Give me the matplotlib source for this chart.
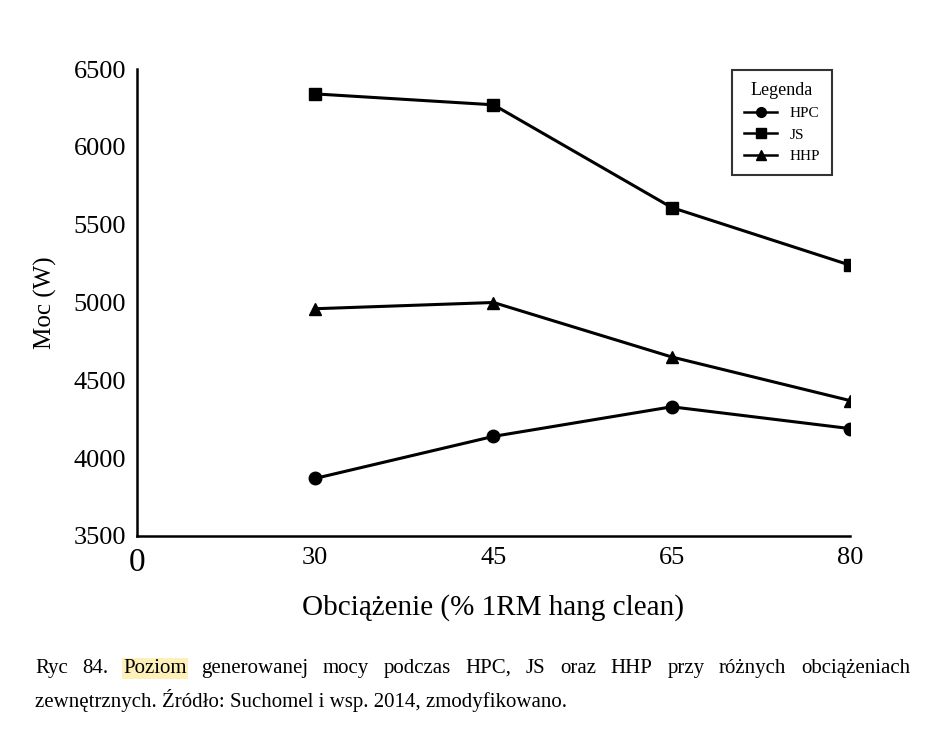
import matplotlib
matplotlib.use("Agg")
import matplotlib.pyplot as plt

categories = ["0", "30", "45", "65", "80"]
x_idx = [1, 2, 3, 4]
hpc = [3870, 4140, 4330, 4190]
js = [6340, 6270, 5610, 5240]
hhp = [4960, 5000, 4650, 4370]
yticks = [3500, 4000, 4500, 5000, 5500, 6000, 6500]

plt.rcParams['font.family'] = ['Liberation Serif', 'DejaVu Serif']
W, H = 945, 744
fig = plt.figure(figsize=(W/100, H/100), dpi=100)
ax = fig.add_axes([137/W, 1-536/H, (850-137)/W, (536-69)/H])
kw = dict(color='black', lw=2.2, ms=9)
l1, = ax.plot(x_idx, hpc, marker='o', label='HPC', **kw)
l2, = ax.plot(x_idx, js, marker='s', label='JS', **kw)
l3, = ax.plot(x_idx, hhp, marker='^', label='HHP', **kw)
ax.set_xlim(0, 4)
ax.set_ylim(3500, 6500)
ax.set_xticks(range(5))
ax.set_xticklabels(categories)
ax.get_xticklabels()[0].set_fontsize(24)
ax.set_yticks(yticks)
for s in ['top', 'right']:
    ax.spines[s].set_visible(False)
for s in ['left', 'bottom']:
    ax.spines[s].set_linewidth(1.8)
ax.tick_params(axis='both', labelsize=19, length=0, pad=8)
ax.get_xticklabels()[0].set_fontsize(24)
ax.set_ylabel('Moc (W)', fontsize=18, labelpad=12)
ax.set_xlabel('Obciążenie (% 1RM hang clean)', fontsize=21, labelpad=12)

leg = fig.legend(handles=[l1, l2, l3], title='Legenda', loc='upper left',
                 bbox_to_anchor=(724/W, 1-62/H), fontsize=11, title_fontsize=13,
                 frameon=True, fancybox=False, edgecolor='black', handlelength=2.2,
                 borderpad=0.8, labelspacing=0.5)
leg.get_frame().set_linewidth(1.5)
for h in leg.legend_handles:
    h.set_markersize(7)
    h.set_linewidth(1.8)

# caption, justified first line
line1 = "Ryc 84. Poziom generowanej mocy podczas HPC, JS oraz HHP przy różnych obciążeniach".split()
line2 = "zewnętrznych. Źródło: Suchomel i wsp. 2014, zmodyfikowano."
fs = 15
fig.canvas.draw()
r = fig.canvas.get_renderer()
x0, x1 = 35, 910
texts = []
widths = []
for w in line1:
    t = fig.text(0, 1-673/H, w, fontsize=fs)
    widths.append(t.get_window_extent(r).width)
    texts.append(t)
gap = (x1 - x0 - sum(widths)) / (len(line1) - 1)
x = x0
for t, w, word in zip(texts, widths, line1):
    t.set_x(x/W)
    if word == 'Poziom':
        t.set_bbox(dict(facecolor='#fdf0b8', edgecolor='none', pad=1))
    x += w + gap
fig.text(x0/W, 1-707/H, line2, fontsize=fs)
fig.savefig('out.png', dpi=100, facecolor='white')
